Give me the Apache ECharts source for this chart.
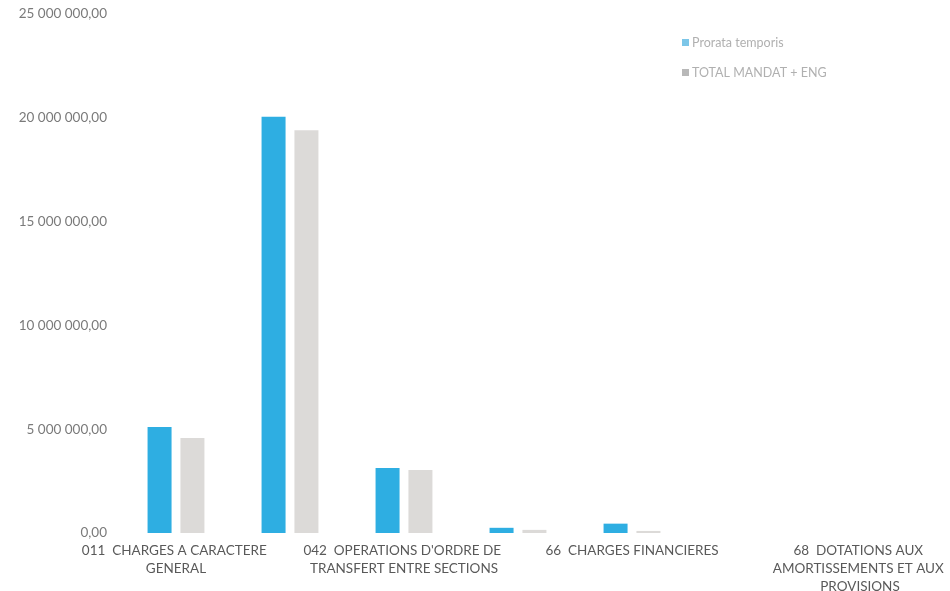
<!DOCTYPE html>
<html><head><meta charset="utf-8">
<script src="https://cdn.jsdelivr.net/npm/echarts@6/dist/echarts.min.js"></script>
<style>html,body{margin:0;padding:0;background:#fff}#c{width:950px;height:591px}</style>
</head><body><div id="c"></div>
<script>
const categories = [
  "011  CHARGES A CARACTERE GENERAL",
  "012  CHARGES DE PERSONNEL",
  "042  OPERATIONS D'ORDRE DE TRANSFERT ENTRE SECTIONS",
  "65  AUTRES CHARGES DE GESTION COURANTE",
  "66  CHARGES FINANCIERES",
  "67  CHARGES EXCEPTIONNELLES",
  "68  DOTATIONS AUX AMORTISSEMENTS ET AUX PROVISIONS"
];
const seriesNames = ["Prorata temporis", "TOTAL MANDAT + ENG"];
const prorata = [5100000, 20050000, 3130000, 250000, 450000, 0, 0];
const totalMandat = [4580000, 19400000, 3030000, 150000, 100000, 0, 0];
const yTicks = [0, 5000000, 10000000, 15000000, 20000000, 25000000];

function fmt(v){
  const s = Math.round(v).toString().replace(/\B(?=(\d{3})+(?!\d))/g, " ");
  return s + ",00";
}
const chart = echarts.init(document.getElementById('c'));
chart.setOption({
  animation:false,
  textStyle:{fontFamily:"Lato, 'Open Sans', sans-serif"},
  grid:{left:119,right:33,top:14,bottom:58,containLabel:false,outerBoundsMode:'none'},
  legend:{
    orient:'vertical', left:677, top:31, itemGap:17,
    itemWidth:7, itemHeight:7, icon:'rect',
    textStyle:{fontSize:12.5,color:'#b0b0b0',fontFamily:"Lato, sans-serif",padding:[0,0,0,-2]},
    data:[{name:seriesNames[0], itemStyle:{color:'#7cc6e8'}},
          {name:seriesNames[1], itemStyle:{color:'#b8b8b8'}}]
  },
  xAxis:{
    type:'category', data:categories,
    axisLine:{show:false}, axisTick:{show:false},
    axisLabel:{interval:1, color:'#595959', fontSize:13.5, margin:9, lineHeight:18,
      width:225, overflow:'break', align:'center'}
  },
  yAxis:{
    type:'value', min:yTicks[0], max:yTicks[yTicks.length-1], interval:5000000,
    splitLine:{show:false}, axisLine:{show:false}, axisTick:{show:false},
    axisLabel:{color:'#7a7a7a', fontSize:13.5, margin:12, formatter:fmt}
  },
  series:[
    {name:seriesNames[0], type:'bar', data:prorata, barWidth:24, barGap:'37%',
     itemStyle:{color:'#2eaee2'}},
    {name:seriesNames[1], type:'bar', data:totalMandat, barWidth:24,
     itemStyle:{color:'#dcdad8'}}
  ]
});
</script></body></html>
